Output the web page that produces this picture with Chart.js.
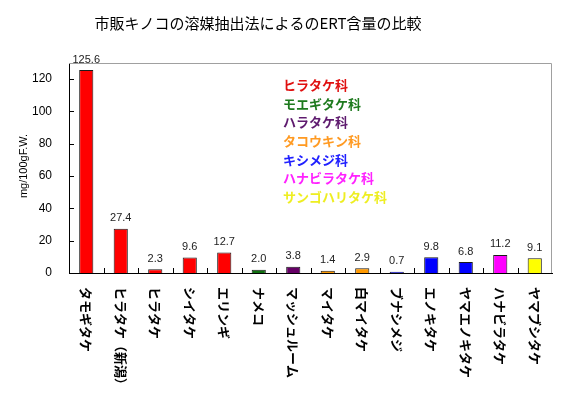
<!DOCTYPE html>
<html>
<head>
<meta charset="utf-8">
<script src="https://cdn.jsdelivr.net/npm/chart.js@4"></script>
<style>
	body { margin: 0; background: #fff; }
	#wrap { width: 565px; height: 393px; }
</style>
</head>
<body>
<div id="wrap"><canvas id="ert-chart" width="565" height="393"></canvas></div>
<script>
// data
const categories = ['タモギタケ', 'ヒラタケ（新潟）', 'ヒラタケ', 'シイタケ', 'エリンギ', 'ナメコ', 'マッシュルーム',
	'マイタケ', '白マイタケ', 'ブナシメジ', 'エノキタケ', 'ヤマエノキタケ', 'ハナビラタケ', 'ヤマブシタケ'];
const values = [125.6, 27.4, 2.3, 9.6, 12.7, 2.0, 3.8, 1.4, 2.9, 0.7, 9.8, 6.8, 11.2, 9.1];
const familyOf = [0, 0, 0, 0, 0, 1, 2, 3, 3, 4, 4, 4, 5, 6];
const families = ['ヒラタケ科', 'モエギタケ科', 'ハラタケ科', 'タコウキン科', 'キシメジ科', 'ハナビラタケ科', 'サンゴハリタケ科'];
const barColors = ['#ff0000', '#107010', '#660066', '#ff9900', '#0000ff', '#ff00ff', '#ffff00'];
const textColors = ['#e01010', '#1e7a1e', '#5e1a6e', '#ff9a22', '#2020ff', '#ff22ff', '#eeee22'];
const yTicks = [0, 20, 40, 60, 80, 100, 120];

const title = '市販キノコの溶媒抽出法によるのERT含量の比較';
const yTitle = 'mg/100gF.W.';
const jp = '"Noto Sans CJK JP", sans-serif';

const extras = {
	id: 'extras',
	afterDatasetsDraw(chart) {
		const {ctx, chartArea: a, scales: {x, y}} = chart;
		ctx.save();

		// grey frame top / right
		ctx.strokeStyle = '#a0a0a0';
		ctx.lineWidth = 1;
		ctx.beginPath();
		ctx.moveTo(a.left, a.top + 0.5);
		ctx.lineTo(a.right - 0.5, a.top + 0.5);
		ctx.lineTo(a.right - 0.5, a.bottom);
		ctx.stroke();

		// inward tick marks
		ctx.strokeStyle = '#000';
		ctx.beginPath();
		yTicks.forEach(v => {
			const py = Math.round(y.getPixelForValue(v)) + 0.5;
			ctx.moveTo(a.left, py);
			ctx.lineTo(a.left + 5, py);
		});
		const step = x.getPixelForValue(1) - x.getPixelForValue(0);
		for (let i = 1; i < categories.length; i++) {
			const px = Math.round(x.getPixelForValue(i) - step / 2) + 0.5;
			ctx.moveTo(px, a.bottom);
			ctx.lineTo(px, a.bottom - 5);
		}
		ctx.stroke();

		// value labels
		ctx.fillStyle = '#222';
		ctx.font = '11px "Liberation Sans", Arial, sans-serif';
		ctx.textAlign = 'center';
		ctx.textBaseline = 'bottom';
		const meta = chart.getDatasetMeta(0);
		meta.data.forEach((bar, i) => {
			ctx.fillText(values[i].toFixed(1), bar.x, bar.y - 5);
		});

		// vertical category labels
		ctx.fillStyle = '#000';
		ctx.font = 'bold 13px ' + jp;
		ctx.textAlign = 'left';
		ctx.textBaseline = 'middle';
		categories.forEach((c, i) => {
			ctx.save();
			ctx.translate(x.getPixelForValue(i), a.bottom + 14);
			ctx.rotate(Math.PI / 2);
			ctx.fillText(c, 0, 0);
			ctx.restore();
		});

		// family legend
		ctx.font = 'bold 13px ' + jp;
		families.forEach((f, i) => {
			ctx.fillStyle = textColors[i];
			ctx.fillText(f, 283, 85 + i * 18.7);
		});

		// title
		ctx.fillStyle = '#000';
		ctx.font = '15px ' + jp;
		ctx.textAlign = 'center';
		ctx.fillText(title, 258, 23);

		// y axis title
		ctx.save();
		ctx.translate(24, 166);
		ctx.rotate(-Math.PI / 2);
		ctx.font = '11px "Liberation Sans", Arial, sans-serif';
		ctx.fillText(yTitle, 0, 0);
		ctx.restore();

		ctx.restore();
	}
};

new Chart(document.getElementById('ert-chart'), {
	type: 'bar',
	data: {
		labels: categories,
		datasets: [{
			data: values,
			backgroundColor: familyOf.map(f => barColors[f]),
			borderColor: '#1a1a1a',
			borderWidth: 1,
			categoryPercentage: 1,
			barPercentage: 0.41
		}]
	},
	options: {
		responsive: false,
		animation: false,
		layout: { padding: { top: 63, right: 13, left: 0, bottom: 0 } },
		plugins: {
			legend: { display: false },
			tooltip: { enabled: false }
		},
		scales: {
			x: {
				grid: { display: false },
				border: { color: '#000', width: 1 },
				ticks: { display: false },
				afterFit(scale) { scale.height = 120; }
			},
			y: {
				min: 0,
				max: 130,
				grid: { display: false, drawTicks: false },
				border: { color: '#000', width: 1 },
				ticks: {
					stepSize: 20,
					padding: 17,
					color: '#000',
					font: { family: '"Liberation Sans", Arial, sans-serif', size: 12 },
					callback: v => yTicks.includes(v) ? v : ''
				},
				afterFit(scale) { scale.width = 69; }
			}
		}
	},
	plugins: [extras]
});
</script>
</body>
</html>
